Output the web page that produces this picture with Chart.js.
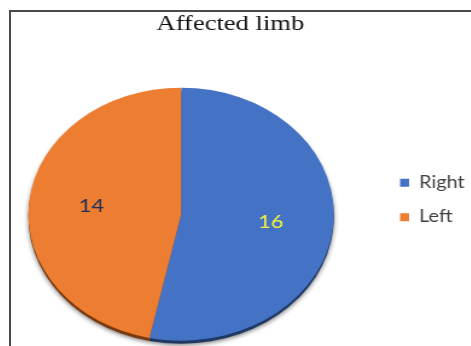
<!DOCTYPE html>
<html>
<head>
<meta charset="utf-8">
<script src="https://cdn.jsdelivr.net/npm/chart.js@4/dist/chart.umd.min.js"></script>
<style>
  html, body { margin: 0; padding: 0; background: #fff; overflow: hidden; width: 471px; height: 346px; position: relative; }
  #frame { position: absolute; left: 9px; top: 10px; width: 480px; height: 400px;
           border-left: 2px solid #4a4a4a; border-top: 2px solid #4a4a4a; }
  /* the chart is laid out narrow and widened horizontally */
  #chart { position: absolute; left: -15.8px; top: 0; transform-origin: 0 0; transform: scaleX(1.2077); }
</style>
</head>
<body>
<div id="frame"></div>
<canvas id="chart" width="408" height="390"></canvas>
<script>
const categories = ['Right', 'Left'];
const patientCounts = [16, 14];
const sliceColors = ['#4472C4', '#ED7D31'];
const rimColors = ['#1F3864', '#7A3A0E'];
const valueColors = ['#F5F53C', '#1F2D5C'];

// dark rim under each slice, giving the disc some thickness
const pieDepth = {
  id: 'pieDepth',
  beforeDatasetsDraw(chart, args, opts) {
    const ctx = chart.ctx;
    ctx.save();
    ctx.shadowColor = 'rgba(0,0,0,0.5)';
    ctx.shadowBlur = 4;
    ctx.shadowOffsetY = 1.5;
    chart.getDatasetMeta(0).data.forEach((arc, i) => {
      ctx.beginPath();
      ctx.moveTo(arc.x, arc.y + opts.depth);
      ctx.arc(arc.x, arc.y + opts.depth, arc.outerRadius, arc.startAngle, arc.endAngle);
      ctx.closePath();
      ctx.fillStyle = opts.colors[i];
      ctx.fill();
    });
    ctx.restore();
  }
};

// slice values written inside the slices
const valueLabels = {
  id: 'valueLabels',
  afterDatasetsDraw(chart, args, opts) {
    const ctx = chart.ctx;
    const values = chart.data.datasets[0].data;
    ctx.save();
    ctx.font = opts.font;
    ctx.textAlign = 'center';
    ctx.textBaseline = 'middle';
    chart.getDatasetMeta(0).data.forEach((arc, i) => {
      const mid = (arc.startAngle + arc.endAngle) / 2;
      const rr = arc.outerRadius * opts.position;
      ctx.fillStyle = opts.colors[i];
      ctx.fillText(String(values[i]), arc.x + rr * Math.cos(mid), arc.y + rr * Math.sin(mid));
    });
    ctx.restore();
  }
};

new Chart(document.getElementById('chart'), {
  type: 'pie',
  data: {
    labels: categories,
    datasets: [{
      data: patientCounts,
      backgroundColor: sliceColors,
      borderWidth: 0,
      radius: 126.5,
      clip: false
    }]
  },
  options: {
    responsive: false,
    animation: false,
    events: [],
    rotation: 0,
    layout: { padding: { left: 0, right: 0, top: 9.8, bottom: 0 } },
    plugins: {
      title: {
        display: true,
        text: 'Affected limb',
        color: '#111',
        font: { family: 'Liberation Serif', size: 22, weight: 'normal', lineHeight: 1.2 },
        padding: { top: 1, bottom: 1.1 }
      },
      legend: {
        position: 'right',
        align: 'center',
        labels: {
          boxWidth: 7.5,
          boxHeight: 8,
          padding: 18,
          color: '#404040',
          font: { family: 'Lato', size: 16.5 }
        }
      },
      tooltip: { enabled: false },
      pieDepth: { depth: 3, colors: rimColors },
      valueLabels: { position: 0.59, font: '18px Lato', colors: valueColors }
    }
  },
  plugins: [pieDepth, valueLabels]
});
</script>
</body>
</html>
